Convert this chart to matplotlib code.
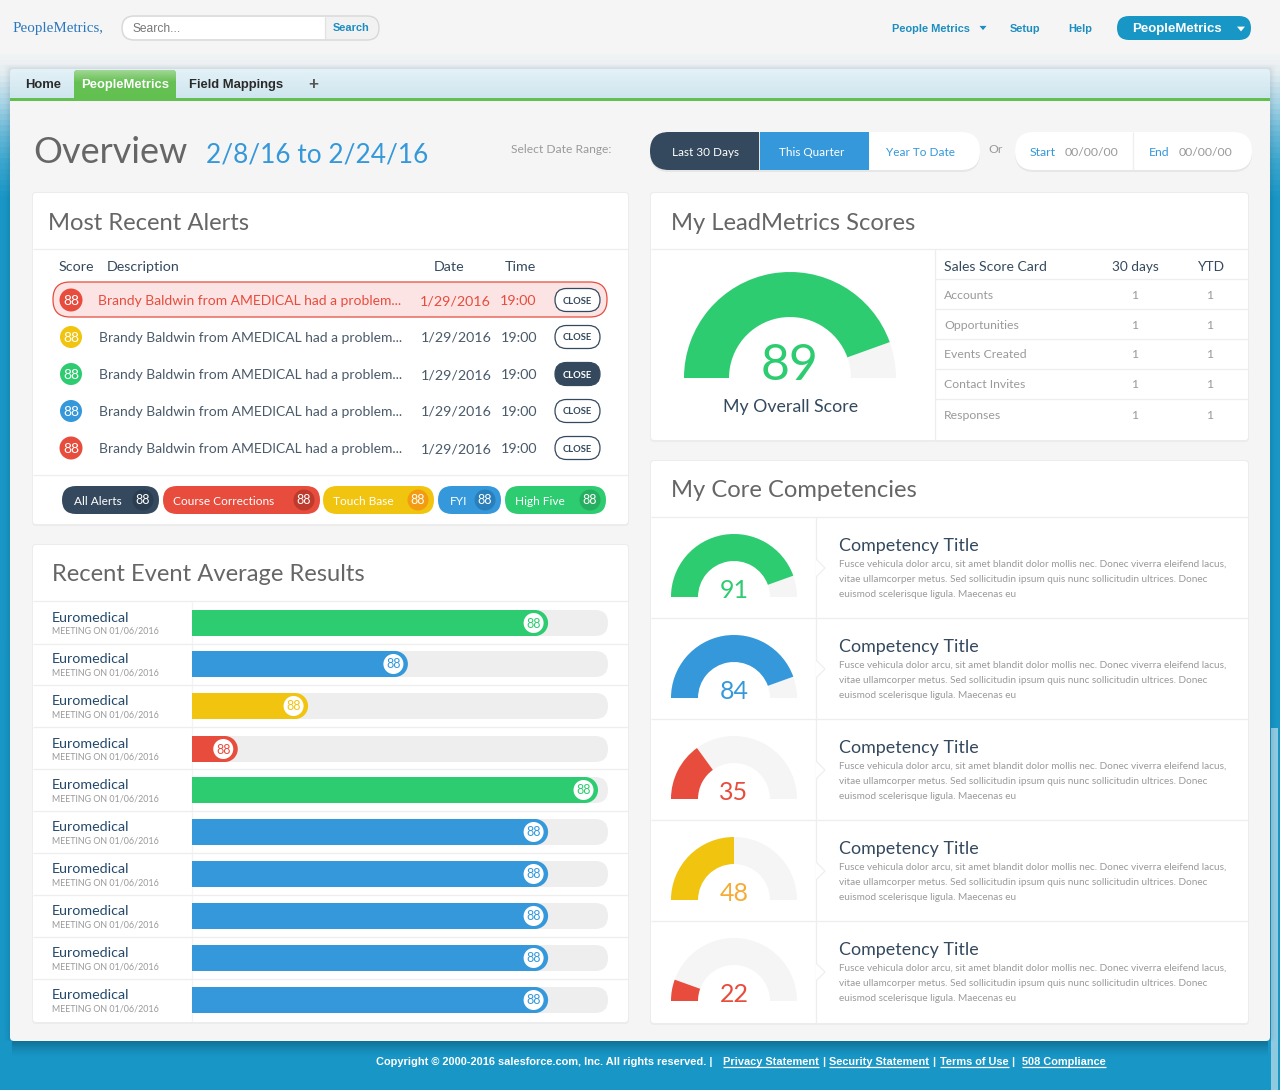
"""PeopleMetrics overview dashboard, drawn on one pixel-sized axes."""
from itertools import count

import matplotlib
matplotlib.use("Agg")
import matplotlib.pyplot as plt
import numpy as np
from matplotlib.colors import to_rgb
from matplotlib.patches import Circle, FancyBboxPatch, Polygon, Rectangle, Wedge

# ---- data
GREEN, BLUE, YELLOW, RED, NAVY = "#2ecc71", "#3498db", "#f1c40f", "#e74c3c", "#34495e"

alert_desc = "Brandy Baldwin from AMEDICAL had a problem..."
alert_scores = [88, 88, 88, 88, 88]
alert_colors = [RED, YELLOW, GREEN, BLUE, RED]
alert_date = "1/29/2016"
alert_time = "19:00"

filter_names = ["All Alerts", "Course Corrections", "Touch Base", "FYI", "High Five"]
filter_counts = [88, 88, 88, 88, 88]
filter_colors = [NAVY, RED, YELLOW, BLUE, GREEN]
filter_dark = ["#2b3d50", "#bd3a2d", "#f39c12", "#2a7fba", "#27ae60"]

event_names = ["Euromedical"] * 10
event_sub = "MEETING ON 01/06/2016"
event_scores = [88, 88, 88, 88, 88, 88, 88, 88, 88, 88]
event_fill = [85.6, 51.9, 27.9, 11.0, 97.6, 85.6, 85.6, 85.6, 85.6, 85.6]
event_colors = [GREEN, BLUE, YELLOW, RED, GREEN, BLUE, BLUE, BLUE, BLUE, BLUE]

overall_score = 89
overall_fill = 89

score_rows = ["Accounts", "Opportunities", "Events Created", "Contact Invites", "Responses"]
score_30d = [1, 1, 1, 1, 1]
score_ytd = [1, 1, 1, 1, 1]

comp_scores = [91, 84, 35, 48, 22]
comp_fill = [89, 89, 30, 50, 11]
comp_colors = [GREEN, BLUE, RED, YELLOW, RED]
comp_text_colors = [GREEN, BLUE, RED, "#f5ab35", RED]
comp_body = [
    "Fusce vehicula dolor arcu, sit amet blandit dolor mollis nec. Donec viverra eleifend lacus,",
    "vitae ullamcorper metus. Sed sollicitudin ipsum quis nunc sollicitudin ultrices. Donec",
    "euismod scelerisque ligula. Maecenas eu",
]

# ---- layout
W, H = 1280, 1090
EVENT_Y = [623, 664, 706, 749, 790, 832, 874, 916, 958, 1000]
EVENT_SEP = [644, 685, 727, 769, 811, 853, 895, 937, 979]
ALERT_Y = [300, 337, 374, 411, 448]
FILTER_X = [(62, 159), (163, 320), (323, 434), (438, 501), (505, 606)]
FILTER_PAD = [12, 10, 10, 12, 10]
SCORE_Y = [295, 325, 354, 384, 415]
SCORE_SEP = [279, 309, 339, 369, 399]
COMP_BASE = [597, 698, 799, 900, 1001]
BAR_X0, BAR_W = 192, 416
LINE = "#eeeeee"
GREY = "#9a9a9a"
TITLE = "#666666"

plt.rcParams["font.family"] = ["Lato", "DejaVu Sans"]
fig = plt.figure(figsize=(W / 100, H / 100), dpi=100)
ax = fig.add_axes([0, 0, 1, 1])
ax.set_axis_off()
z = count(2)


def t(x, y, s, px, color="#333333", ha="left", weight="normal", family=None):
    kw = {"family": family} if family else {}
    return ax.text(x, y, s, fontsize=px * 0.72, color=color, ha=ha, va="baseline",
                   weight=weight, zorder=1000, **kw)


def rrect(x0, y0, x1, y1, r, fc, ec="none", lw=0.0, alpha=None):
    p = FancyBboxPatch((x0, y0), x1 - x0, y1 - y0, boxstyle=f"round,pad=0,rounding_size={r}",
                       fc=fc, ec=ec, lw=lw, alpha=alpha, zorder=next(z))
    ax.add_patch(p)
    return p


def rect(x0, y0, x1, y1, fc, alpha=None):
    p = Rectangle((x0, y0), x1 - x0, y1 - y0, fc=fc, ec="none", alpha=alpha, zorder=next(z))
    ax.add_patch(p)
    return p


def circ(x, y, r, fc):
    ax.add_patch(Circle((x, y), r, fc=fc, ec="none", zorder=next(z)))


def hline(y, x0, x1, color=LINE):
    ax.plot([x0, x1], [y, y], color=color, lw=0.9, solid_capstyle="butt", zorder=next(z))


def vline(x, y0, y1, color=LINE):
    ax.plot([x, x], [y0, y1], color=color, lw=0.9, solid_capstyle="butt", zorder=next(z))


def tri(x, y, s, color):
    ax.add_patch(Polygon([(x - s, y - s * 0.6), (x + s, y - s * 0.6), (x, y + s * 0.6)],
                         fc=color, ec="none", zorder=next(z)))


def vgrad(x0, y0, x1, y1, stops, clip=None):
    ys = np.linspace(y0, y1, 200)
    pos = [s[0] for s in stops]
    cols = np.array([to_rgb(s[1]) for s in stops])
    img = np.stack([np.interp(ys, pos, cols[:, i]) for i in range(3)], axis=1)[:, None, :]
    im = ax.imshow(img, extent=(x0, x1, y1, y0), aspect="auto", zorder=next(z))
    if clip is not None:
        im.set_clip_path(clip)


def card(x0, y0, x1, y1):
    rrect(x0 - 1, y0 - 1, x1 + 1, y1 + 2, 4, "#ececec")
    rrect(x0, y0, x1, y1, 3, "white")


def gauge(cx, cy, r_out, r_in, fill, color):
    ax.add_patch(Wedge((cx, cy), r_out, 180, 360, width=r_out - r_in, fc="#f5f5f5",
                       ec="none", zorder=next(z)))
    # y axis is inverted, so angles run clockwise on screen from the left end
    ax.add_patch(Wedge((cx, cy), r_out, 180, 180 + fill / 100 * 180, width=r_out - r_in,
                       fc=color, ec="none", zorder=next(z)))


# ---- page background
vgrad(0, 0, W, H, [(0, "#f5f5f5"), (50, "#f5f5f5"), (70, "#e4edf1"), (100, "#a8d4e5"),
                   (130, "#6ab9d8"), (160, "#3ba6ce"), (195, "#1a96c6"), (H, "#1897c6")])
rect(1271, 728, 1278, H, "#8fcae1")

# header
t(13, 32, "PeopleMetrics,", 15, "#2b77bd", family="Liberation Serif")
rrect(122, 16, 379, 40, 12, "#f2f2f2", "#d8d8d8", 1.0)
rrect(123, 17, 340, 39, 11, "white")
rect(325, 17, 340, 39, "#f2f2f2")
vline(325, 17, 39, "#e2e2e2")
t(133, 32, "Search...", 12, "#777777", family="Liberation Sans")
t(333, 31, "Search", 11, "#1d8dc0", weight="bold", family="Liberation Sans")
t(892, 32, "People Metrics", 11, "#1d8dc0", weight="bold", family="Liberation Sans")
tri(983, 28, 3.5, "#1d8dc0")
t(1010, 32, "Setup", 11, "#1d8dc0", weight="bold", family="Liberation Sans")
t(1068, 32, "Help", 11, "#1d8dc0", weight="bold", family="Liberation Sans")
rrect(1117, 16, 1251, 40, 12, "#1897c6")
t(1132, 32, "PeopleMetrics", 13.2, "white", weight="bold", family="Liberation Sans")
tri(1241, 29, 4, "white")

# main panel with soft shadow
for grow, a in [(12, 0.012), (8, 0.015), (5, 0.02), (3, 0.02)]:
    rrect(10 - grow * 0.5, 69 - grow * 0.4, 1270 + grow * 0.5, 1041, 4, "black", alpha=a)
for i in range(16):
    rect(12, 1041 + i, 1268, 1042 + i, "black", alpha=0.24 * (1 - i / 16) ** 1.5)
panel = rrect(10, 69, 1270, 1041, 4, "#f5f5f5")
vgrad(10, 69, 1270, 98, [(69, "#e4f1f8"), (98, "#cfe6ee")], clip=panel)
rect(10, 98, 1270, 101, "#62c050")

# tabs
t(25, 88, "Home", 13, "#2a2a2a", weight="bold", family="Liberation Sans")
tab = rrect(74, 70, 176, 110, 4, "#62c050")
vgrad(74, 70, 176, 98, [(70, "#a2d796"), (82, "#66c154"), (98, "#62c050")], clip=tab)
rect(74, 98, 176, 101, "#62c050")
rect(74, 101, 176, 112, "#f5f5f5")
t(81, 88, "PeopleMetrics", 13, "white", weight="bold", family="Liberation Sans")
t(189, 88, "Field Mappings", 13, "#2a2a2a", weight="bold", family="Liberation Sans")
t(313, 89, "+", 17, "#555555", ha="center", weight="bold", family="Liberation Sans")

# title row
t(33, 163, "Overview", 36, TITLE)
t(206, 163, "2/8/16 to 2/24/16", 26.2, BLUE)
t(511, 153, "Select Date Range:", 12, GREY)
rrect(650, 133, 980, 172, 19, "#e6e6e6")
rrect(870, 132, 980, 170, 19, "white")
rect(869, 132, 900, 170, "white")
rrect(650, 132, 700, 170, 19, NAVY)
rect(669, 132, 759, 170, NAVY)
rect(760, 132, 869, 170, BLUE)
t(705, 156, "Last 30 Days", 11.8, "white", ha="center")
t(812, 156, "This Quarter", 11.8, "white", ha="center")
t(920, 156, "Year To Date", 11.8, BLUE, ha="center")
t(996, 153, "Or", 12.3, GREY, ha="center")
rrect(1015, 133, 1252, 172, 19, "#e6e6e6")
rrect(1015, 132, 1252, 170, 19, "white")
vline(1133, 132, 170)
t(1030, 156, "Start", 12.3, BLUE)
t(1065, 156, "00/00/00", 12.3, GREY)
t(1149, 156, "End", 12.3, BLUE)
t(1179, 156, "00/00/00", 12.3, GREY)

# ---- alerts card
card(33, 193, 628, 524)
t(48, 229.5, "Most Recent Alerts", 23.7, TITLE)
hline(249, 33, 628)
t(59, 271, "Score", 14.2, NAVY)
t(107, 271, "Description", 14.2, NAVY)
t(434, 271, "Date", 14.2, NAVY)
t(505, 271, "Time", 14.2, NAVY)
rrect(53, 282, 607, 317, 17, "#fce4e4", RED, 0.9)
for i, (yy, score, col) in enumerate(zip(ALERT_Y, alert_scores, alert_colors)):
    circ(71, yy, 11.5 if i in (0, 4) else 11, col)
    t(71, yy + 5, str(score), 14, "white", ha="center")
    tc = RED if i == 0 else "#4a5a6a"
    dx = -1 if i == 0 else 0
    t(99 + dx, yy + 5, alert_desc, 13.9, tc)
    t(421 + dx, yy + 5, alert_date, 14.3, tc)
    t(501 + dx, yy + 5, alert_time, 14.3, tc)
    dark = i == 2
    rrect(555, yy - 11.5, 600, yy + 11.5, 11.5, NAVY if dark else "white", NAVY, 0.9)
    t(577.5, yy + 3.5, "CLOSE", 9.5, "white" if dark else NAVY, ha="center", weight="bold")
hline(475, 33, 628)
for (x0, x1), pad, name, n, col, dk in zip(FILTER_X, FILTER_PAD, filter_names, filter_counts,
                                           filter_colors, filter_dark):
    rrect(x0, 486, x1, 514, 14, col)
    circ(x1 - 16, 500, 10.5, dk)
    t(x1 - 16, 504.5, str(n), 12.5, "white", ha="center")
    t(x0 + pad, 505, name, 11.9, "white")

# ---- event results card
card(33, 545, 628, 1022)
t(52, 581, "Recent Event Average Results", 23.7, TITLE)
hline(601, 33, 628)
vline(192, 601, 1022, "#f3f3f3")
for yy in EVENT_SEP:
    hline(yy, 33, 628)
for yy, name, score, fill, col in zip(EVENT_Y, event_names, event_scores, event_fill, event_colors):
    t(52, yy - 1, name, 14.3, "#24496b")
    t(52, yy + 11, event_sub, 8.9, "#999999")
    rrect(BAR_X0, yy - 13, BAR_X0 + BAR_W, yy + 13, 13, "#eeeeee")
    x_end = BAR_X0 + fill / 100 * BAR_W
    ax.barh(yy, x_end - 13 - BAR_X0, left=BAR_X0, height=26, color=col, zorder=next(z))
    circ(x_end - 13, yy, 13, col)
    circ(x_end - 14.5, yy, 10, "white")
    t(x_end - 14.5, yy + 4.5, str(score), 12.5, col, ha="center")

# ---- lead metrics card
card(651, 193, 1248, 440)
t(671, 229.5, "My LeadMetrics Scores", 23.7, TITLE)
hline(249, 651, 1248)
vline(935, 249, 440)
gauge(790, 378, 106, 61, overall_fill, GREEN)
t(790, 380, str(overall_score), 50, GREEN, ha="center")
t(791, 412, "My Overall Score", 17.8, NAVY, ha="center")
t(944, 271, "Sales Score Card", 14, NAVY)
t(1135, 271, "30 days", 13.6, NAVY, ha="center")
t(1211, 271, "YTD", 13.6, NAVY, ha="center")
for sep in SCORE_SEP:
    hline(sep, 935, 1248)
for yy, name, a, b in zip(SCORE_Y, score_rows, score_30d, score_ytd):
    t(944, yy + 4, name, 12.3, GREY)
    t(1135, yy + 4, str(a), 12.3, GREY, ha="center")
    t(1210, yy + 4, str(b), 12.3, GREY, ha="center")

# ---- competencies card
card(651, 461, 1248, 1023)
t(671, 497, "My Core Competencies", 23.7, TITLE)
hline(517, 651, 1248)
vline(816, 517, 1023)
for base, score, fill, col, tcol in zip(COMP_BASE, comp_scores, comp_fill, comp_colors, comp_text_colors):
    gauge(734, base, 63, 36, fill, col)
    t(734, base + 1, str(score), 25, tcol, ha="center")
    cy = base - 29
    ax.add_patch(Polygon([(816, cy - 9), (825, cy), (816, cy + 9)], closed=False,
                         fc="white", ec=LINE, lw=0.9, zorder=next(z)))
    t(839, base - 46, "Competency Title", 17.9, NAVY)
    for k, line in enumerate(comp_body):
        t(839, base - 30 + 15 * k, line, 9.96, GREY)
    if base != COMP_BASE[-1]:
        hline(base + 21, 651, 1248)

# ---- footer
t(376, 1065, "Copyright © 2000-2016 salesforce.com, Inc. All rights reserved. |", 11, "white",
  weight="bold", family="Liberation Sans")
renderer = fig.canvas.get_renderer()
ax.set_xlim(0, W)
ax.set_ylim(H, 0)
for x, label in [(723, "Privacy Statement"), (829, "Security Statement"),
                 (940, "Terms of Use"), (1022, "508 Compliance")]:
    txt = t(x, 1065, label, 11, "white", weight="bold", family="Liberation Sans")
    width = txt.get_window_extent(renderer).width
    hline(1067, x, x + width, "white")
    if label != "508 Compliance":
        t(x + width + 4.5, 1065, "|", 11, "white", ha="center", weight="bold",
          family="Liberation Sans")

ax.set_xlim(0, W)
ax.set_ylim(H, 0)
fig.savefig("out.png", dpi=100)
